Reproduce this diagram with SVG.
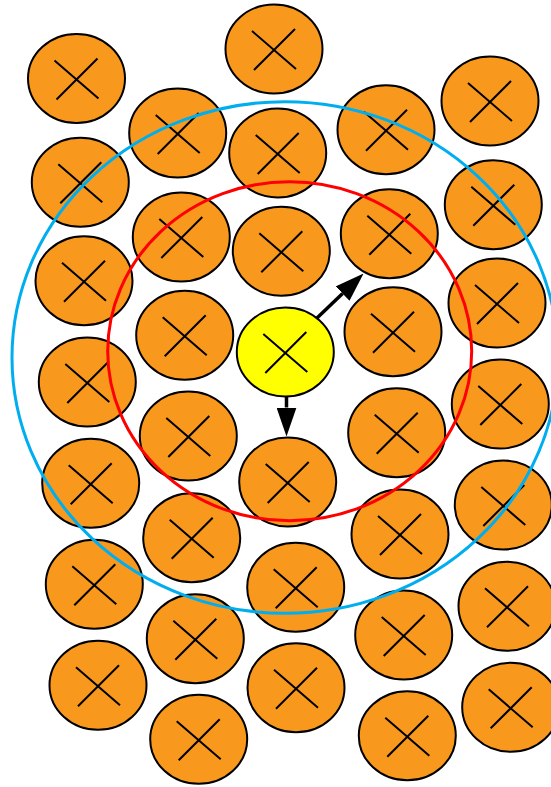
<svg xmlns="http://www.w3.org/2000/svg" xmlns:xlink="http://www.w3.org/1999/xlink" width="551" height="787" viewBox="0 0 551 787">
<style>
.n ellipse{fill:#F8991D;stroke:#000;stroke-width:2}
.n.c ellipse{fill:#FFFF00}
.x{fill:none;stroke:#000;stroke-width:2}
.e{fill:none;stroke:#000;stroke-width:3.5}
.ring{fill:none;stroke-width:3}
</style>
<defs>
<path id="x" class="x" d="M-22,-18 L22,20 M-20,21 L21,-20"/>
<marker id="ah" markerUnits="userSpaceOnUse" viewBox="0 0 29 20" refX="0" refY="10" markerWidth="29" markerHeight="20" orient="auto"><path d="M0,0 L29,10 L0,20 z" fill="#000"/></marker>
</defs>
<g id="nodes">
<g id="n1_1" class="n" transform="translate(76.5,78.5)"><ellipse rx="48.5" ry="44.5"/><use xlink:href="#x"/></g>
<g id="n1_2" class="n" transform="translate(80.3,182.3)"><ellipse rx="48.5" ry="44.5"/><use xlink:href="#x"/></g>
<g id="n1_3" class="n" transform="translate(84,280.7)"><ellipse rx="48.5" ry="44.5"/><use xlink:href="#x"/></g>
<g id="n1_4" class="n" transform="translate(87.3,382)"><ellipse rx="48.5" ry="44.5"/><use xlink:href="#x"/></g>
<g id="n1_5" class="n" transform="translate(90.7,483.3)"><ellipse rx="48.5" ry="44.5"/><use xlink:href="#x"/></g>
<g id="n1_6" class="n" transform="translate(94.3,584.3)"><ellipse rx="48.5" ry="44.5"/><use xlink:href="#x"/></g>
<g id="n1_7" class="n" transform="translate(98,685.3)"><ellipse rx="48.5" ry="44.5"/><use xlink:href="#x"/></g>
<g id="n2_1" class="n" transform="translate(177.7,133)"><ellipse rx="48.5" ry="44.5"/><use xlink:href="#x"/></g>
<g id="n2_2" class="n" transform="translate(181.3,237)"><ellipse rx="48.5" ry="44.5"/><use xlink:href="#x"/></g>
<g id="n2_3" class="n" transform="translate(184.7,335.3)"><ellipse rx="48.5" ry="44.5"/><use xlink:href="#x"/></g>
<g id="n2_4" class="n" transform="translate(188.3,436)"><ellipse rx="48.5" ry="44.5"/><use xlink:href="#x"/></g>
<g id="n2_5" class="n" transform="translate(191.7,537.7)"><ellipse rx="48.5" ry="44.5"/><use xlink:href="#x"/></g>
<g id="n2_6" class="n" transform="translate(195.3,638.7)"><ellipse rx="48.5" ry="44.5"/><use xlink:href="#x"/></g>
<g id="n2_7" class="n" transform="translate(198.7,739.3)"><ellipse rx="48.5" ry="44.5"/><use xlink:href="#x"/></g>
<g id="n3_1" class="n" transform="translate(274,49)"><ellipse rx="48.5" ry="44.5"/><use xlink:href="#x"/></g>
<g id="n3_2" class="n" transform="translate(277.7,153)"><ellipse rx="48.5" ry="44.5"/><use xlink:href="#x"/></g>
<g id="n3_3" class="n" transform="translate(281.3,251.3)"><ellipse rx="48.5" ry="44.5"/><use xlink:href="#x"/></g>
<g id="center" class="n c" transform="translate(285.3,352)"><ellipse rx="48.5" ry="44.5"/><use xlink:href="#x"/></g>
<g id="n3_5" class="n" transform="translate(287.7,482)"><ellipse rx="48.5" ry="44.5"/><use xlink:href="#x"/></g>
<g id="n3_6" class="n" transform="translate(295.7,587.3)"><ellipse rx="48.5" ry="44.5"/><use xlink:href="#x"/></g>
<g id="n3_7" class="n" transform="translate(296,687.7)"><ellipse rx="48.5" ry="44.5"/><use xlink:href="#x"/></g>
<g id="n4_1" class="n" transform="translate(386,129.7)"><ellipse rx="48.5" ry="44.5"/><use xlink:href="#x"/></g>
<g id="n4_2" class="n" transform="translate(389.3,233.7)"><ellipse rx="48.5" ry="44.5"/><use xlink:href="#x"/></g>
<g id="n4_3" class="n" transform="translate(393,331.7)"><ellipse rx="48.5" ry="44.5"/><use xlink:href="#x"/></g>
<g id="n4_4" class="n" transform="translate(396.7,432.7)"><ellipse rx="48.5" ry="44.5"/><use xlink:href="#x"/></g>
<g id="n4_5" class="n" transform="translate(400,534)"><ellipse rx="48.5" ry="44.5"/><use xlink:href="#x"/></g>
<g id="n4_6" class="n" transform="translate(403.7,635)"><ellipse rx="48.5" ry="44.5"/><use xlink:href="#x"/></g>
<g id="n4_7" class="n" transform="translate(407.3,735.7)"><ellipse rx="48.5" ry="44.5"/><use xlink:href="#x"/></g>
<g id="n5_1" class="n" transform="translate(490,101)"><ellipse rx="48.5" ry="44.5"/><use xlink:href="#x"/></g>
<g id="n5_2" class="n" transform="translate(493.3,204.7)"><ellipse rx="48.5" ry="44.5"/><use xlink:href="#x"/></g>
<g id="n5_3" class="n" transform="translate(497,303)"><ellipse rx="48.5" ry="44.5"/><use xlink:href="#x"/></g>
<g id="n5_4" class="n" transform="translate(500.3,404)"><ellipse rx="48.5" ry="44.5"/><use xlink:href="#x"/></g>
<g id="n5_5" class="n" transform="translate(503.3,505)"><ellipse rx="48.5" ry="44.5"/><use xlink:href="#x"/></g>
<g id="n5_6" class="n" transform="translate(507,606.3)"><ellipse rx="48.5" ry="44.5"/><use xlink:href="#x"/></g>
<g id="n5_7" class="n" transform="translate(510.7,707.3)"><ellipse rx="48.5" ry="44.5"/><use xlink:href="#x"/></g>
</g>
<g id="connectors">
<path class="e" d="M317,318 L342.6,293.6" marker-end="url(#ah)"/>
<path class="e" d="M286.5,396.5 L286.5,407.5" marker-end="url(#ah)"/>
</g>
<g id="rings">
<ellipse class="ring" cx="285" cy="357.5" rx="273" ry="255.8" stroke="#00AEEF"/>
<ellipse class="ring" cx="289.7" cy="351.2" rx="182" ry="169.5" stroke="#FF0000"/>
</g>
</svg>
